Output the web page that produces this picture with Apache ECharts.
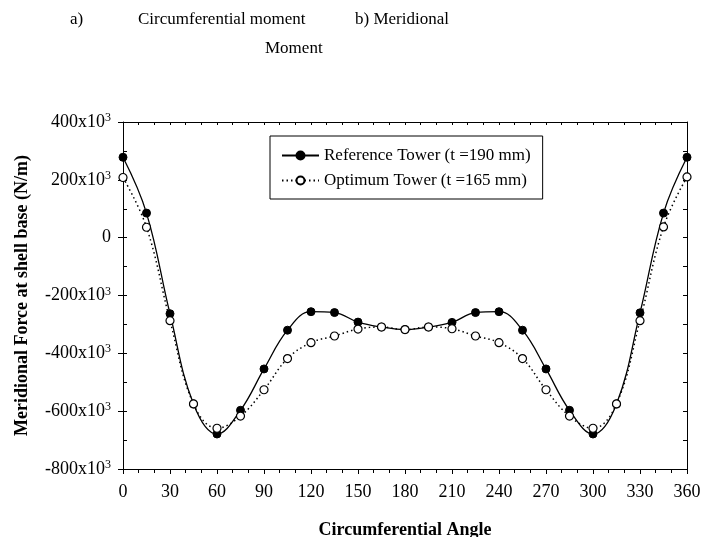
<!DOCTYPE html>
<html><head><meta charset="utf-8">
<script src="https://cdn.jsdelivr.net/npm/echarts@6/dist/echarts.min.js"></script>
<style>html,body{margin:0;padding:0;background:#fff}#c{width:716px;height:537px}</style>
</head><body><div id="c"></div>
<script>
const angles = [0,15,30,45,60,75,90,105,120,135,150,165,180,195,210,225,240,255,270,285,300,315,330,345,360];
const referenceTower = [278000,85000,-263000,-575000,-679000,-597000,-454000,-320000,-256000,-259000,-292000,-309000,-318000,-309000,-293000,-259000,-256000,-320000,-454000,-597000,-679000,-575000,-260000,85000,278000];
const optimumTower = [208000,36000,-287000,-575000,-659000,-617000,-526000,-418000,-363000,-340000,-316000,-309000,-318000,-309000,-315000,-340000,-363000,-418000,-526000,-617000,-659000,-575000,-287000,37000,210000];
const xTicks = [0,30,60,90,120,150,180,210,240,270,300,330,360];
const yTicks = [-800000,-600000,-400000,-200000,0,200000,400000];

const F = '"Liberation Serif","DejaVu Serif",serif';
const chart = echarts.init(document.getElementById('c'));
const pairs = (ys) => angles.map((a,i)=>[a, ys[i]]);
chart.setOption({
  animation:false,
  backgroundColor:'#fff',
  graphic:[
    {type:'text',left:70,top:11,style:{text:'a)',font:'17px '+F,fill:'#000'}},
    {type:'text',left:138,top:11,style:{text:'Circumferential moment',font:'17px '+F,fill:'#000'}},
    {type:'text',left:355,top:11,style:{text:'b) Meridional',font:'17px '+F,fill:'#000'}},
    {type:'text',left:265,top:40,style:{text:'Moment',font:'17px '+F,fill:'#000'}}
  ],
  grid:{left:123,right:29,top:122,bottom:68,outerBoundsMode:'none',containLabel:false},
  legend:{
    left:270, top:136, width:260, orient:'vertical',
    borderColor:'#000', borderWidth:1, padding:[11,12,10,11], itemGap:8,
    itemWidth:37, itemHeight:10,
    textStyle:{fontFamily:F,fontSize:17,color:'#000'},
    data:['Reference Tower (t =190 mm)','Optimum Tower (t =165 mm)']
  },
  xAxis:[{
    type:'value', min:0, max:360, interval:30,
    name:'Circumferential Angle', nameLocation:'middle', nameGap:52,
    nameTextStyle:{fontFamily:F,fontSize:18,fontWeight:'bold',color:'#000'},
    axisLine:{onZero:false,lineStyle:{color:'#000',width:1}},
    axisTick:{show:true,length:5,lineStyle:{color:'#000'}},
    minorTick:{show:true,splitNumber:3,length:4,lineStyle:{color:'#000'}},
    axisLabel:{fontFamily:F,fontSize:18,color:'#000',margin:14},
    splitLine:{show:false}
  },{
    type:'value', min:0, max:360, interval:10, position:'top',
    axisLine:{show:true,onZero:false,lineStyle:{color:'#000'}},
    axisTick:{show:true,inside:true,length:3,lineStyle:{color:'#000'}},
    axisLabel:{show:false}, splitLine:{show:false}
  }],
  yAxis:[{
    type:'value', min:-800000, max:400000, interval:200000,
    name:'Meridional Force at shell base (N/m)', nameLocation:'middle', nameGap:92,
    nameTextStyle:{fontFamily:F,fontSize:18,fontWeight:'bold',color:'#000'},
    axisLine:{show:true,onZero:false,lineStyle:{color:'#000'}},
    axisTick:{show:true,length:5,lineStyle:{color:'#000'}},
    axisLabel:{fontFamily:F,fontSize:18,color:'#000',margin:12,
      formatter:v=> v===0?'0':(v/1000)+'x10{s|3}',
      rich:{s:{fontFamily:F,fontSize:12,color:'#000',verticalAlign:'top',padding:[0,0,8,0]}}},
    splitLine:{show:false}
  },{
    type:'value', min:-800000, max:400000, interval:100000, position:'right',
    axisLine:{show:true,onZero:false,lineStyle:{color:'#000'}},
    axisTick:{show:true,inside:true,length:4,lineStyle:{color:'#000'}},
    axisLabel:{show:false}, splitLine:{show:false}
  },{
    type:'value', min:-800000, max:400000, interval:100000, position:'left',
    axisLine:{show:false,onZero:false},
    axisTick:{show:true,inside:true,length:4,lineStyle:{color:'#000'}},
    axisLabel:{show:false}, splitLine:{show:false}
  }],
  series:[{
    name:'Reference Tower (t =190 mm)', type:'line', smooth:0.4,
    data:pairs(referenceTower), symbol:'circle', symbolSize:8,
    lineStyle:{color:'#000',width:1.3,type:'solid'},
    itemStyle:{color:'#000',borderColor:'#000',borderWidth:1}, z:3
  },{
    name:'Optimum Tower (t =165 mm)', type:'line', smooth:0.4,
    data:pairs(optimumTower), symbol:'circle', symbolSize:8,
    lineStyle:{color:'#000',width:1.5,type:[1.5,3]},
    itemStyle:{color:'#fff',borderColor:'#000',borderWidth:1.2}, z:4
  }]
});
</script></body></html>
